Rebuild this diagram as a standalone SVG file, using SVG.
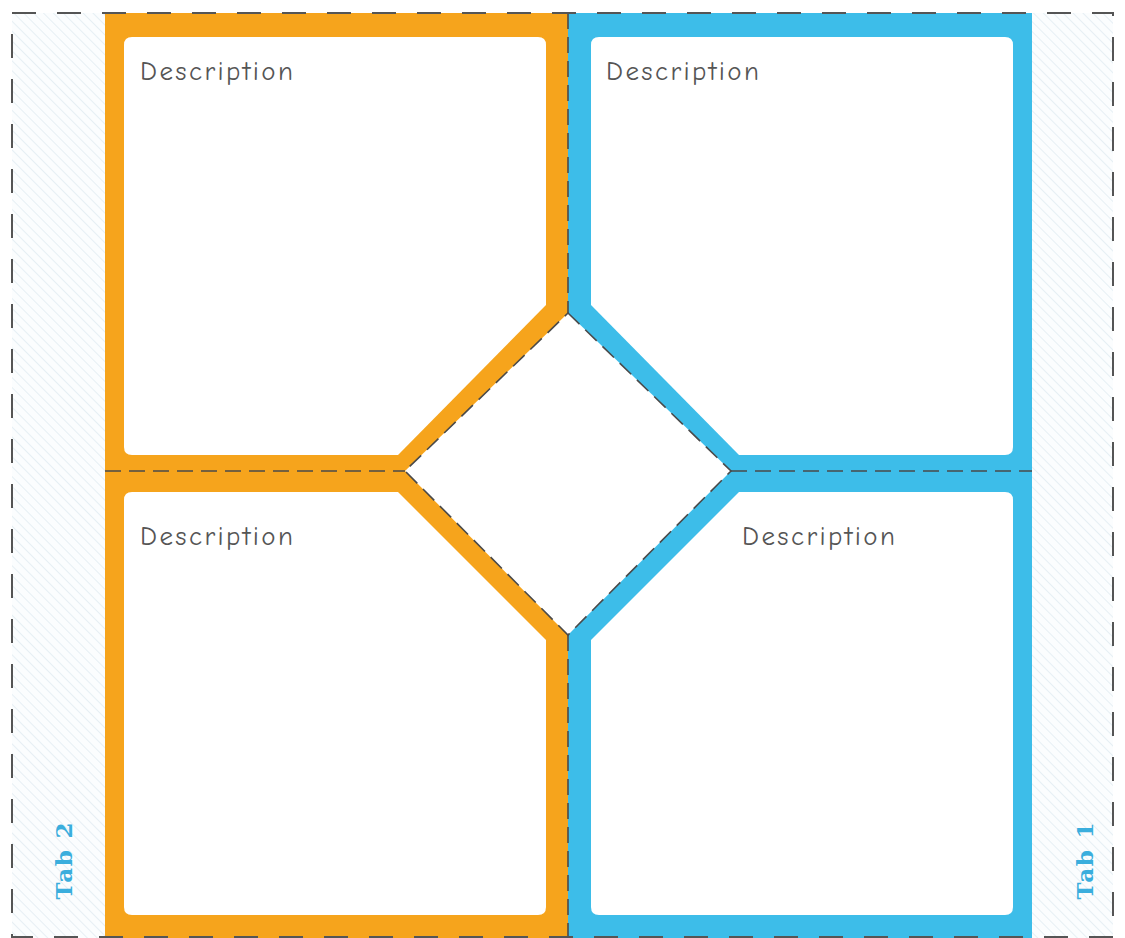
<svg xmlns="http://www.w3.org/2000/svg" width="1125" height="938" viewBox="0 0 1125 938">
<style>
.desc{font-family:"Comic Neue","DejaVu Sans","Liberation Sans",sans-serif;font-size:27px;fill:#555}
.tab{font-family:"DejaVu Serif","Liberation Serif",serif;font-weight:bold;font-size:23px;fill:#3aaedd}
.fold{fill:none;stroke:#4a4a4a;stroke-width:1.6;stroke-dasharray:16 8}
.border{fill:none;stroke:#555;stroke-width:2;stroke-dasharray:24 21}
.box{fill:#fff}
</style>
<defs>
<pattern id="hatch" width="7" height="7" patternUnits="userSpaceOnUse" patternTransform="rotate(-45)">
<rect width="7" height="7" fill="#fbfdfe"/>
<line x1="0" y1="0" x2="0" y2="7" stroke="#dbe8ef" stroke-width="1.3"/>
</pattern>
</defs>
<rect width="1125" height="938" fill="#fff"/>
<g id="tab2">
<rect x="12" y="13" width="93" height="925" fill="url(#hatch)"/>
<text class="tab" transform="translate(72,861) rotate(-90)" text-anchor="middle" textLength="77">Tab 2</text>
</g>
<g id="tab1">
<rect x="1032" y="13" width="81" height="925" fill="url(#hatch)"/>
<text class="tab" transform="translate(1093,861) rotate(-90)" text-anchor="middle" textLength="77">Tab 1</text>
</g>
<g id="frames">
<rect x="105" y="13" width="463" height="925" fill="#f6a41c"/>
<rect x="568" y="13" width="464" height="925" fill="#3dbde9"/>
<polygon points="568,313 731,471 568,635 405,471" fill="#fff"/>
</g>
<g id="box-top-left">
<path class="box" d="M132,37 H538 Q546,37 546,45 V305 L398,455 H132 Q124,455 124,447 V45 Q124,37 132,37 Z"/>
<text class="desc" x="140" y="80" textLength="153">Description</text>
</g>
<g id="box-top-right">
<path class="box" d="M599,37 H1005 Q1013,37 1013,45 V447 Q1013,455 1005,455 H739 L591,305 V45 Q591,37 599,37 Z"/>
<text class="desc" x="606" y="80" textLength="153">Description</text>
</g>
<g id="box-bottom-left">
<path class="box" d="M132,492 H398 L546,640 V907 Q546,915 538,915 H132 Q124,915 124,907 V500 Q124,492 132,492 Z"/>
<text class="desc" x="140" y="545" textLength="153">Description</text>
</g>
<g id="box-bottom-right">
<path class="box" d="M739,492 H1005 Q1013,492 1013,500 V907 Q1013,915 1005,915 H599 Q591,915 591,907 V640 Z"/>
<text class="desc" x="742" y="545" textLength="153">Description</text>
</g>
<g id="connectors">
<path class="fold" d="M568,13 V313 M568,635 V938 M105,471 H405 M731,471 H1032"/>
<polygon class="fold" points="568,313 731,471 568,635 405,471"/>
<rect class="border" x="12" y="13" width="1101" height="924"/>
</g>
</svg>
